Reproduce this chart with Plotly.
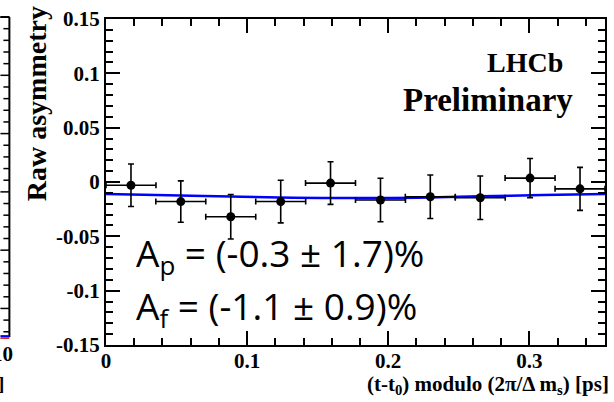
import plotly.graph_objects as go

# ---- data ----
bin_centers = [0.0177, 0.0530, 0.0884, 0.1238, 0.1591, 0.1945, 0.2298, 0.2652, 0.3005, 0.3359]
bin_half_width = [0.0177] * 10
asym_values = [-0.003, -0.018, -0.032, -0.018, -0.001, -0.0166, -0.0136, -0.0145, 0.0036, -0.0063]
asym_errors = [0.0195, 0.019, 0.0205, 0.0196, 0.0196, 0.020, 0.020, 0.020, 0.018, 0.0198]

fit_t = [0.0, 0.0442, 0.0884, 0.1326, 0.1768, 0.2210, 0.2652, 0.3094, 0.3536]
fit_values = [-0.011, -0.0122, -0.0134, -0.0144, -0.0148, -0.0144, -0.0132, -0.0120, -0.011]

y_tickvals = [-0.15, -0.10, -0.05, 0.0, 0.05, 0.10, 0.15]
y_ticktext = ["-0.15", "-0.1", "-0.05", "0", "0.05", "0.1", "0.15"]
x_tickvals = [0.0, 0.1, 0.2, 0.3]
x_ticktext = ["0", "0.1", "0.2", "0.3"]
x_max = 0.3536

# ---- layout geometry (pixels) ----
W, H = 614, 402
L, R, T, B = 106, 607, 15, 345


def px(X):
    return (X - L) / (R - L)


def py(Y):
    return (B - Y) / (B - T)


SERIF = "Liberation Serif"

fig = go.Figure()

fig.add_trace(go.Scatter(
    x=fit_t, y=fit_values, mode="lines",
    line=dict(color="#0000ff", width=2.5, shape="spline"),
    hoverinfo="skip", showlegend=False,
))

fig.add_trace(go.Scatter(
    x=bin_centers, y=asym_values, mode="markers",
    marker=dict(color="black", size=9),
    error_y=dict(type="data", array=asym_errors, color="black", thickness=1.6, width=3),
    error_x=dict(type="data", array=bin_half_width, color="black", thickness=1.6, width=3),
    showlegend=False,
))

axis_common = dict(
    showline=True, linecolor="black", linewidth=2, mirror="allticks",
    ticks="inside", tickcolor="black", tickwidth=1.5, ticklen=14,
    showgrid=False, zeroline=False,
    tickfont=dict(family=SERIF, size=21, color="black", weight="bold"),
)

fig.update_xaxes(
    range=[0, x_max], tickmode="array", tickvals=x_tickvals, ticktext=x_ticktext,
    ticklabelstandoff=-4,
    minor=dict(dtick=0.02, tick0=0, ticks="inside", ticklen=7, tickcolor="black", tickwidth=1.5, showgrid=False),
    **axis_common,
)
fig.update_yaxes(
    range=[-0.15, 0.15], tickmode="array", tickvals=y_tickvals, ticktext=y_ticktext,
    minor=dict(dtick=0.01, tick0=0, ticks="inside", ticklen=7, tickcolor="black", tickwidth=1.5, showgrid=False),
    **axis_common,
)

annotations = [
    dict(text="Raw asymmetry", x=px(37), y=py(101), textangle=-90,
         font=dict(family=SERIF, size=28, color="black", weight="bold")),
    dict(text="LHCb", x=px(527), y=py(59),
         font=dict(family=SERIF, size=28, color="black", weight="bold")),
    dict(text="Preliminary", x=px(490), y=py(97),
         font=dict(family=SERIF, size=33, color="black", weight="bold")),
    dict(text="A<sub>p</sub> = (-0.3 ± 1.7)%", x=px(134), y=py(254), xanchor="left",
         font=dict(family="Open Sans", size=37, color="black")),
    dict(text="A<sub>f</sub> = (-1.1 ± 0.9)%", x=px(134), y=py(308), xanchor="left",
         font=dict(family="Open Sans", size=37, color="black")),
    dict(text="(t-t<sub>0</sub>) modulo (2π/Δ m<sub>s</sub>) [ps]", x=px(613), y=py(385), xanchor="right",
         font=dict(family=SERIF, size=21, color="black", weight="bold")),
    # fragments of the neighbouring panel on the left edge
    dict(text="10", x=px(15), y=py(354), xanchor="right",
         font=dict(family=SERIF, size=21, color="black", weight="bold")),
    dict(text="]", x=px(6), y=py(384), xanchor="right",
         font=dict(family=SERIF, size=19, color="black", weight="bold")),
]
for a in annotations:
    a.update(xref="paper", yref="paper", showarrow=False)
    a.setdefault("xanchor", "center")
    a.setdefault("yanchor", "middle")

shapes = [
    dict(type="line", x0=px(9), x1=px(9), y0=py(13), y1=py(337), line=dict(color="black", width=2)),
    dict(type="line", x0=px(0), x1=px(9), y0=py(13), y1=py(13), line=dict(color="black", width=2)),
    dict(type="line", x0=px(0), x1=px(9), y0=py(338), y1=py(338), line=dict(color="#cc0000", width=1.5)),
    dict(type="line", x0=px(0), x1=px(9), y0=py(336), y1=py(336), line=dict(color="#0000ff", width=2)),
]
k = 0
yy = 13.0
while yy <= 337:
    ln = 9 if k % 5 == 0 else 6
    shapes.append(dict(type="line", x0=px(9 - ln), x1=px(9), y0=py(yy), y1=py(yy),
                       line=dict(color="black", width=1.5)))
    yy += 11.8
    k += 1
for s in shapes:
    s.update(xref="paper", yref="paper")

fig.update_layout(
    width=W, height=H,
    margin=dict(l=L, r=W - R, t=T, b=H - B, pad=0),
    paper_bgcolor="white", plot_bgcolor="white",
    annotations=annotations, shapes=shapes,
    showlegend=False,
)

fig.write_html(
    "out.html",
    config={"displayModeBar": False},
    post_script="document.body.style.margin='0';document.body.style.overflow='hidden';",
)
